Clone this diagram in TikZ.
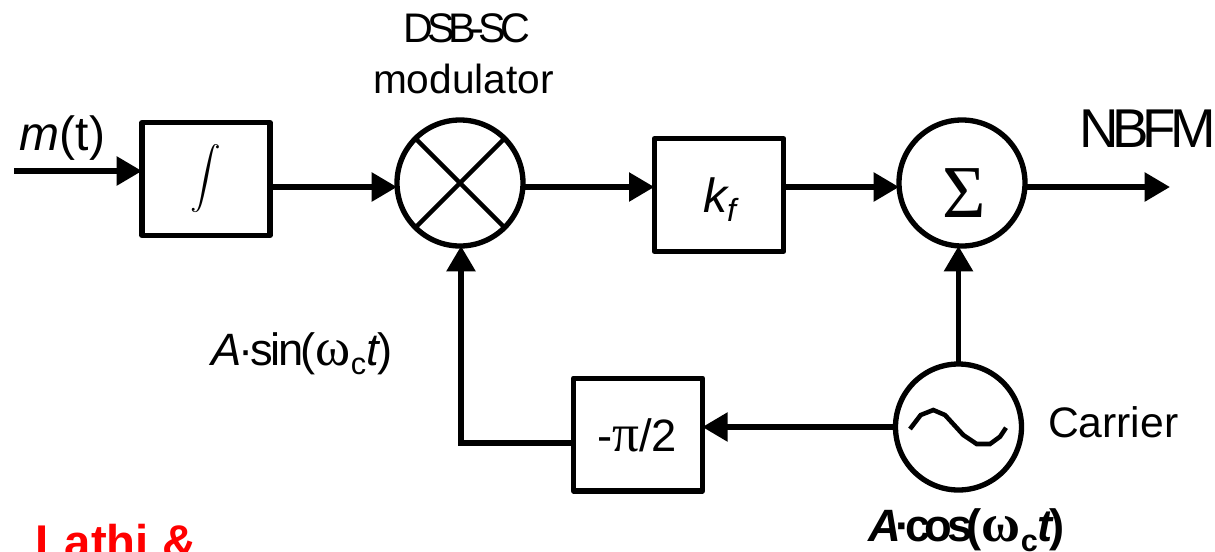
\documentclass[tikz,border=0pt]{standalone}
\usepackage{fontspec}
\setmainfont{Liberation Sans}
\newfontfamily\grk{Liberation Serif}
\usetikzlibrary{arrows.meta}
\tikzset{
  x=0.75pt,y=-0.75pt,
  blockbox/.style={draw,line width=4pt,inner sep=0pt,outer sep=0pt,rectangle,line join=round},
  junction/.style={draw,line width=4pt,inner sep=0pt,outer sep=0pt,circle,minimum size=94.5pt},
  conn/.style={line width=4.2pt,-{Triangle[length=19pt,width=21pt]}},
  plainline/.style={line width=4.2pt},
  lab/.style={inner sep=0pt,outer sep=0pt,anchor=base west,font=\fontsize{30.5}{36}\selectfont},
}
\begin{document}
\begin{tikzpicture}
\useasboundingbox (0,0) rectangle (1215,551);
\clip (0,0) rectangle (1215,551);
\node[blockbox,minimum width=96pt,minimum height=84.5pt] (integ) at (206,179) {\scalebox{2.3}{$\displaystyle\int$}};
\node[junction] (mult) at (460,183) {};
\node[blockbox,minimum width=97pt,minimum height=84.5pt] (gain) at (719,195) {};
\node[junction] (summ) at (962,183) {};
\node[junction] (osc) at (958.5,427) {};
\node[blockbox,minimum width=96.5pt,minimum height=84.5pt] (phase) at (638,434.5) {};
\node[lab] (gaint) at (703,212) {\fontsize{36}{40}\selectfont\itshape k\raisebox{-7pt}{\fontsize{24}{26}\selectfont f}};
\node[anchor=center,inner sep=0pt] (sumt) at (964,193) {\grk\fontsize{56}{60}\selectfont Σ};
\node[lab] (phaset) at (597,451) {\fontsize{34}{38}\selectfont -{\grk\fontsize{40}{40}\selectfont π}/2};
\coordinate (inl) at (14,171);
\coordinate (row) at (0,187);
\coordinate (outr) at (1170,187);
\coordinate (bend) at (461,443);
\draw[conn] (inl) -- (integ.west |- inl);
\draw[conn] (integ.east |- row) -- (mult.west |- row);
\draw[conn] (mult.east |- row) -- (gain.west |- row);
\draw[conn] (gain.east |- row) -- (summ.west |- row);
\draw[conn] (summ.east |- row) -- (outr);
\draw[conn] (osc.north) -- (osc.north |- summ.south);
\draw[conn] (osc.west) -- (phase.east |- osc.west);
\draw[plainline,line cap=rect] (phase.west |- bend) -- (bend);
\draw[conn] (bend) -- (bend |- mult.south);
\draw[line width=3.4pt] (mult.45) -- (mult.225) (mult.135) -- (mult.315);
\draw[line width=3.4pt] (910,429) -- (920.7,415) -- (933.3,410) -- (945,415) -- (963.3,435) -- (976.7,444) -- (990,444) -- (1000,436.7) -- (1006,427.7);
\node[lab] (mtlab) at (20,150) {\fontsize{36}{40}\selectfont\itshape m\upshape(t)};
\node[lab] (dsb) at (403,42) {\fontsize{31}{36}\selectfont\addfontfeature{LetterSpace=-14}DSB-SC};
\node[lab] (modl) at (373,93) {modulator};
\node[lab] (nbfm) at (1079,147) {\fontsize{41}{44}\selectfont\addfontfeature{LetterSpace=-11}NBFM};
\node[lab] (sinl) at (211,365) {\fontsize{34}{38}\selectfont\addfontfeature{LetterSpace=-6}\textit{A}·sin({\grk\fontsize{40}{40}\selectfont ω}\raisebox{-7pt}{\fontsize{23}{24}\selectfont c}\textit{t})};
\node[lab] (carl) at (1048,437) {\fontsize{32}{36}\selectfont Carrier};
\node[lab] (cosl) at (868,541) {\fontsize{34}{38}\selectfont\bfseries\addfontfeature{LetterSpace=-12}\textit{A}·cos({\grk\fontsize{40}{40}\selectfont ω}\raisebox{-8pt}{\fontsize{23}{24}\selectfont c}\textit{t})};
\node[lab,text=red] (lathi) at (36,558) {\fontsize{35.5}{40}\selectfont\bfseries Lathi \&};
\end{tikzpicture}
\end{document}
